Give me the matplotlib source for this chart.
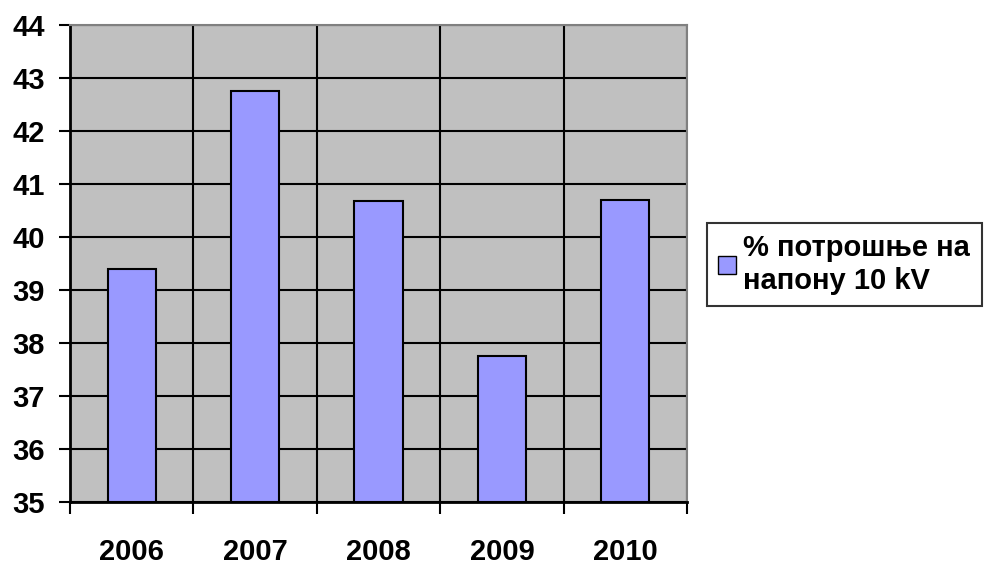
import numpy as np
import matplotlib.pyplot as plt
from matplotlib.patches import Patch

years = ["2006", "2007", "2008", "2009", "2010"]
values = [39.40, 42.75, 40.67, 37.75, 40.69]
series_label = "% потрошње на\nнапону 10 kV"

plt.rcParams['font.family'] = ['Liberation Sans', 'DejaVu Sans']
plt.rcParams['font.weight'] = 'bold'

fig = plt.figure(figsize=(10.01, 5.65), dpi=100)
ax = fig.add_axes([0.0699, 0.1115, 0.6165, 0.8443])
ax.set_facecolor('#C0C0C0')

x = np.arange(len(years))
ax.bar(x, [v - 35 for v in values], bottom=35, width=0.39,
       color='#9999FF', edgecolor='black', linewidth=1.5, zorder=3)

ax.set_ylim(35, 44)
ax.set_xlim(-0.5, len(years) - 0.5)
ax.set_yticks(range(35, 45))
ax.set_yticklabels([str(v) for v in range(35, 45)], fontsize=21, fontweight='bold')
ax.set_xticks(np.arange(-0.5, len(years), 1.0))
ax.set_xticklabels([])
ax.set_xticks(x, minor=True)
ax.set_xticklabels(years, minor=True, fontsize=21, fontweight='bold')
ax.tick_params(axis='x', which='major', length=8.5, width=1.5, direction='out')
ax.tick_params(axis='x', which='minor', length=0, pad=26)
ax.tick_params(axis='y', length=8, width=1.5, direction='out', pad=10)

ax.grid(True, which='major', color='black', linewidth=1.5, zorder=1)
ax.set_axisbelow(True)

for s in ['left', 'bottom']:
    ax.spines[s].set_color('black')
    ax.spines[s].set_linewidth(2)
for s in ['top', 'right']:
    ax.spines[s].set_color('#808080')
    ax.spines[s].set_linewidth(1.5)

handle = Patch(facecolor='#9999FF', edgecolor='black', linewidth=1)
leg = fig.legend([handle], [series_label], loc='upper left',
                 bbox_to_anchor=(0.706, 0.606), frameon=True, fancybox=False,
                 prop={'size': 21, 'weight': 'bold'}, handlelength=0.6,
                 handleheight=0.6, handletextpad=0.25, borderpad=0.4,
                 borderaxespad=0, labelspacing=0.2)
leg.get_frame().set_edgecolor('black')
leg.get_frame().set_linewidth(1.5)

fig.savefig('out.png', dpi=100)
